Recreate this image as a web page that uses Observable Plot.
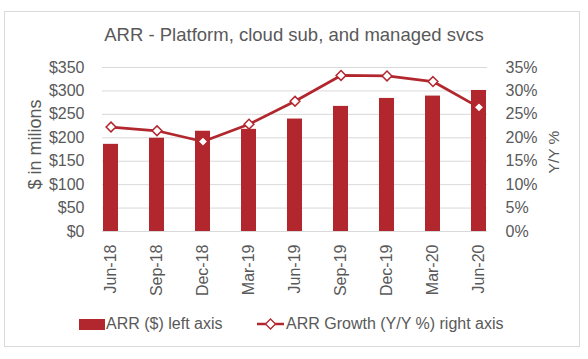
<!DOCTYPE html>
<html><head><meta charset="utf-8">
<script src="https://cdn.jsdelivr.net/npm/d3@7"></script>
<script src="https://cdn.jsdelivr.net/npm/@observablehq/plot@0.6"></script>
<style>
body{margin:0;background:#fff;font-family:"Liberation Sans",Arial,sans-serif;}
#wrap{position:relative;width:588px;height:359px;overflow:hidden;background:#fff}
#border{position:absolute;left:4px;top:11px;width:574px;height:334px;border:1px solid #d9d9d9}
#title{position:absolute;left:0;top:24px;width:588px;text-align:center;font-size:18.5px;color:#595959;line-height:22px;white-space:nowrap}
#chart{position:absolute;left:0;top:50px}
.leg{position:absolute;top:315px;font-size:16px;color:#595959;line-height:18px;display:flex;align-items:center;white-space:nowrap}
.sw{display:inline-block;width:26px;height:11px;background:#b2272e;margin-right:1px}
</style></head>
<body>
<div id="wrap">
  <div id="border"></div>
  <div id="title">ARR - Platform, cloud sub, and managed svcs</div>
  <div id="chart"></div>
  <div class="leg" style="left:79px"><span class="sw"></span>ARR ($) left axis</div>
  <div class="leg" style="left:257px"><svg width="29" height="12" style="margin-right:0px"><line x1="0" x2="27" y1="6" y2="6" stroke="#b2272e" stroke-width="2.5"/><path d="M13.5,1 L18.5,6 L13.5,11 L8.5,6 Z" fill="#fff" stroke="#b2272e" stroke-width="1.3"/></svg>ARR Growth (Y/Y %) right axis</div>
</div>
<script>
const quarters = ["Jun-18","Sep-18","Dec-18","Mar-19","Jun-19","Sep-19","Dec-19","Mar-20","Jun-20"];
const arrValues = [186, 199, 214, 218, 240, 267, 284, 289, 301];
const growthPct = [22.3, 21.5, 19.2, 22.9, 27.8, 33.3, 33.2, 32.0, 26.5];
const leftTicks = [0, 50, 100, 150, 200, 250, 300, 350];
const rightTicks = [0, 5, 10, 15, 20, 25, 30, 35];
const leftLabel = "$ in milions";
const rightLabel = "Y/Y %";

const RED = "#b2272e";
const rows = quarters.map((q, i) => ({q, arr: arrValues[i], growth: growthPct[i]}));
// right axis (0-35%) shares pixel mapping with left axis (0-350)
const k = 350 / 35;

const chart = Plot.plot({
  width: 588, height: 260,
  marginLeft: 102, marginRight: 101, marginTop: 17, marginBottom: 79,
  style: {fontFamily: '"Liberation Sans", Arial, sans-serif', fontSize: "16px", color: "#595959", background: "transparent"},
  x: {type: "band", domain: quarters, paddingInner: 0.675, paddingOuter: 0},
  y: {domain: [0, 350]},
  marks: [
    Plot.gridY(leftTicks, {stroke: "#d9d9d9", strokeOpacity: 1}),
    Plot.barY(rows, {x: "q", y: "arr", fill: RED}),
    Plot.line(rows, {x: "q", y: d => d.growth * k, stroke: RED, strokeWidth: 2.75}),
    Plot.dot(rows, {x: "q", y: d => d.growth * k, symbol: "diamond2", r: 4.4, fill: "white", stroke: RED, strokeWidth: 1.5}),
    Plot.axisY(leftTicks, {anchor: "left", tickSize: 0, tickPadding: 18, tickFormat: d => "$" + d, label: null}),
    Plot.axisY(rightTicks.map(d => d * k), {anchor: "right", tickSize: 0, tickPadding: 18, tickFormat: d => (d / k) + "%", label: null}),
    Plot.axisX({tickSize: 0, tickPadding: 13, tickRotate: -90, label: null}),
    Plot.text([leftLabel], {frameAnchor: "left", textAnchor: "middle", dx: -67, dy: -5, rotate: -90, text: d => d, fontSize: 18, fill: "#595959"}),
    Plot.text([rightLabel], {frameAnchor: "right", textAnchor: "middle", dx: 67, dy: 2.5, rotate: -90, text: d => d, fontSize: 15.5, fill: "#595959"})
  ]
});
document.getElementById("chart").appendChild(chart);
</script>
</body></html>
